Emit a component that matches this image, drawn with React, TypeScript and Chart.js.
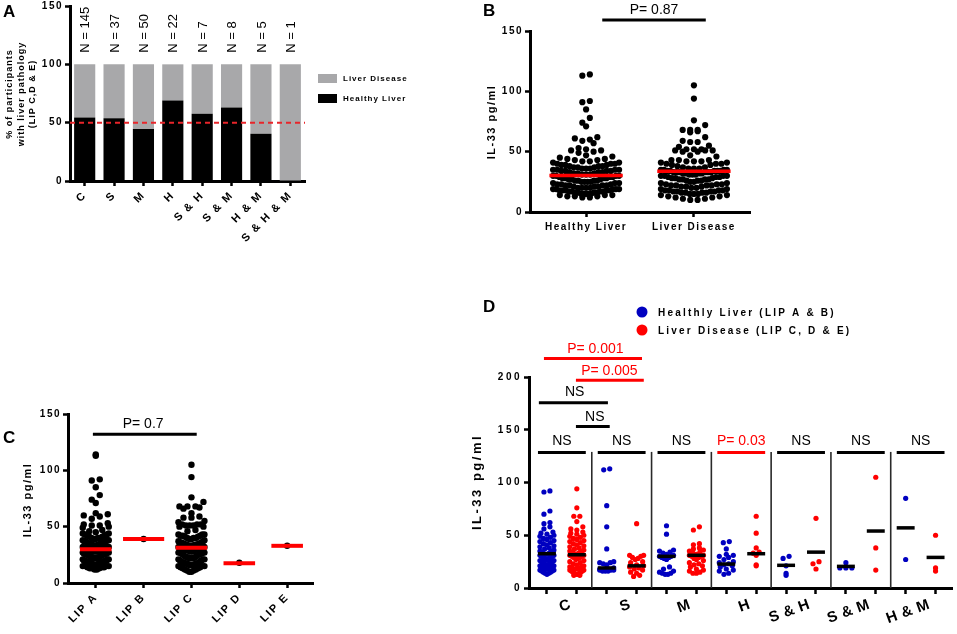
import React, { useEffect, useRef } from 'react';
import { Chart, registerables } from 'chart.js';

Chart.register(...registerables);

const FONT = "'Liberation Sans', Arial, Helvetica, sans-serif";

// ---------------- Panel A data ----------------
const aCategories = ['C', 'S', 'M', 'H', 'S & H', 'S & M', 'H & M', 'S & H & M'];
const aSampleSizes = [145, 37, 50, 22, 7, 8, 5, 1];
const aHealthyPct = [54.5, 53.8, 44.5, 68.9, 57.6, 63, 40.5, 0];
const aDiseasePct = [45.5, 46.2, 55.5, 31.1, 42.4, 37, 59.5, 100];
const aSeriesNames = ['Healthy Liver', 'Liver Disease'];
const aYTitle = ['% of participants', 'with liver pathology', '(LIP C,D & E)'];
const aThreshold = 50;

// ---------------- Panel B / C data ----------------
const lipA = [
  114, 113, 92, 91, 85, 78, 74, 71, 62, 61, 60, 59, 57, 53, 52, 51, 51, 50, 49, 47, 46, 45, 44, 44, 43, 43, 42, 42,
  41, 41, 40, 40, 40, 39, 39, 38, 38, 38, 37, 37, 37, 36, 36, 36, 35, 35, 35, 35, 34, 34, 34, 34, 33, 33, 33, 32, 32,
  32, 31, 31, 31, 30, 30, 30, 30, 29, 29, 29, 28, 28, 28, 28, 27, 27, 27, 26, 26, 26, 26, 25, 25, 25, 25, 24, 24, 24,
  23, 23, 23, 22, 22, 22, 22, 21, 21, 21, 20, 20, 20, 20, 19, 19, 19, 19, 19, 18, 18, 18, 18, 18, 17, 17, 17, 17, 16,
  16, 16, 16, 15, 15, 15, 15, 14, 14, 14, 13, 13, 13, 12, 12,
];
const lipB = [39];
const lipC = [
  105, 94, 76, 72, 68, 68, 68, 67, 66, 62, 59, 58, 58, 55, 54, 52, 52, 52, 51, 51, 51, 50, 50, 47, 46, 43, 43, 43, 42,
  42, 42, 41, 41, 40, 40, 40, 39, 39, 38, 37, 37, 36, 36, 36, 35, 35, 35, 35, 34, 34, 34, 34, 34, 33, 33, 33, 33, 33,
  32, 32, 32, 32, 31, 31, 31, 30, 30, 30, 30, 29, 29, 29, 28, 28, 28, 27, 27, 27, 27, 26, 26, 26, 25, 25, 24, 24, 23,
  23, 23, 22, 22, 22, 22, 21, 21, 21, 20, 20, 19, 19, 18, 18, 18, 17, 17, 17, 17, 16, 16, 16, 16, 15, 15, 15, 14, 14,
  13, 13, 12, 12, 11, 11, 10, 10,
];
const lipD = [18];
const lipE = [33];
const healthyLiver = [...lipA, ...lipB];
const liverDisease = [...lipC, ...lipD, ...lipE];

const bCategories = ['Healthy Liver', 'Liver Disease'];
const bMedians = [30.3, 33.8];
const bPLabel = 'P= 0.87';

const cCategories = ['LIP A', 'LIP B', 'LIP C', 'LIP D', 'LIP E'];
const cMedians = [30, 39, 31.3, 17.5, 33];
const cPLabel = 'P= 0.7';

const yTitleIL33 = 'IL-33 pg/ml';

// ---------------- Panel D data ----------------
const dGroups = ['C', 'S', 'M', 'H', 'S & H', 'S & M', 'H & M'];
const dHealthyC = [92, 91, 73, 70, 62, 61, 58, 56, 53, 52, 51, 50, 49, 48, 47, 46, 45, 44, 43, 42, 41, 40, 39, 38, 37, 36,
  35, 35, 34, 34, 33, 33, 32, 32, 32, 31, 31, 30, 30, 29, 29, 28, 28, 27, 27, 26, 26, 25, 25, 24, 24, 23, 23, 22, 22, 21,
  21, 20, 20, 19, 19, 18, 18, 17, 17, 16, 16, 15, 15, 14, 14, 13];
const dDiseaseC = [94, 76, 68, 68, 63, 58, 56, 55, 53, 52, 51, 50, 49, 48, 47, 46, 45, 44, 43, 42, 41, 40, 39, 38, 37, 36,
  35, 35, 34, 34, 33, 33, 32, 32, 31, 31, 30, 30, 29, 29, 28, 27, 26, 25, 24, 23, 22, 21, 20, 20, 19, 19, 18, 18, 17, 17,
  16, 16, 15, 15, 14, 14, 13, 13, 12, 12];
const dHealthyS = [113, 112, 78, 58, 37, 25, 24, 24, 23, 22, 19, 18, 18, 18, 17, 17, 17, 16, 16, 16];
const dDiseaseS = [61, 31, 31, 30, 29, 28, 27, 25, 24, 22, 21, 20, 19, 18, 17, 15, 14, 12, 11];
const dHealthyM = [59, 51, 36, 35, 34, 33, 32, 31, 30, 30, 29, 29, 28, 27, 20, 18, 16, 15, 14, 14, 13, 13];
const dDiseaseM = [58, 55, 42, 41, 38, 37, 36, 35, 34, 33, 32, 31, 31, 30, 30, 29, 28, 27, 26, 24, 23, 22, 21, 20, 18, 17,
  16, 15, 14, 14];
const dHealthyH = [44, 43, 37, 32, 31, 30, 29, 27, 25, 24, 23, 22, 21, 20, 18, 17, 16, 14, 13];
const dDiseaseH = [68, 52, 38, 34, 33, 31, 22, 21];
const dHealthySH = [30, 28, 21, 14, 12];
const dDiseaseSH = [66, 25, 23, 18];
const dHealthySM = [24, 19, 19, 19];
const dDiseaseSM = [105, 38, 17];
const dHealthyHM = [85, 27];
const dDiseaseHM = [50, 19, 16];
const dHealthyGroups = [dHealthyC, dHealthyS, dHealthyM, dHealthyH, dHealthySH, dHealthySM, dHealthyHM];
const dDiseaseGroups = [dDiseaseC, dDiseaseS, dDiseaseM, dDiseaseH, dDiseaseSH, dDiseaseSM, dDiseaseHM];
const dHealthyLines = [32.5, 19, 30, 22.7, 21.5, 20.5, 57];
const dDiseaseLines = [31.5, 21, 31, 32.5, 34, 54, 29];
const dPairLabels = ['NS', 'NS', 'NS', 'P= 0.03', 'NS', 'NS', 'NS'];
const dPairColors = ['#000', '#000', '#000', '#ff0000', '#000', '#000', '#000'];
const dCrossLabels = ['P= 0.001', 'P= 0.005', 'NS', 'NS'];
const dCrossColors = ['#ff0000', '#ff0000', '#000', '#000'];
const dLegend = ['Healthly Liver (LIP A & B)', 'Liver Disease (LIP C, D & E)'];

const BLUE = '#0000c0';
const RED = '#ff0000';

// ---------------- helpers ----------------
type TxtOpts = { size?: number; bold?: boolean; color?: string; align?: CanvasTextAlign; baseline?: CanvasTextBaseline; rot?: number; ls?: number };
function txt(ctx: any, s: string, x: number, y: number, o: TxtOpts = {}) {
  ctx.save();
  ctx.font = `${o.bold ? 'bold ' : ''}${o.size ?? 12}px ${FONT}`;
  ctx.fillStyle = o.color ?? '#000';
  ctx.textAlign = o.align ?? 'center';
  ctx.textBaseline = o.baseline ?? 'middle';
  ctx.letterSpacing = `${o.ls ?? 0}px`;
  ctx.translate(x, y);
  if (o.rot) ctx.rotate((o.rot * Math.PI) / 180);
  ctx.fillText(s, 0, 0);
  ctx.restore();
}
function seg(ctx: any, x1: number, y1: number, x2: number, y2: number, color: string, w: number, dash: number[] = []) {
  ctx.save();
  ctx.strokeStyle = color;
  ctx.lineWidth = w;
  ctx.setLineDash(dash);
  ctx.beginPath();
  ctx.moveTo(x1, y1);
  ctx.lineTo(x2, y2);
  ctx.stroke();
  ctx.restore();
}

// GraphPad-style scatter layout: points are binned into rows; inside a row the
// lowest values sit in the middle and larger ones move outward (chevrons).
// Row spacing shrinks when a row would be wider than maxW.
function rowOffsets(py: number[], binH: number, sMax: number, maxW: number): number[] {
  const bins = new Map<number, number[]>();
  py.forEach((p, i) => {
    const b = Math.floor(p / binH);
    if (!bins.has(b)) bins.set(b, []);
    bins.get(b)!.push(i);
  });
  const out = new Array(py.length).fill(0);
  bins.forEach((idx) => {
    idx.sort((a, b) => py[b] - py[a]);
    const n = idx.length;
    const s = n > 1 ? Math.min(sMax, maxW / (n - 1)) : 0;
    const pos = Array.from({ length: n }, (_, k) => (k - (n - 1) / 2) * s).sort((a, b) => Math.abs(a) - Math.abs(b) || a - b);
    idx.forEach((i, k) => { out[i] = pos[k]; });
  });
  return out;
}

function applyRows(chart: any, dsIndex: number, center: number, values: number[], binH: number, sMax: number, maxW: number) {
  const xs = chart.scales.x;
  const ys = chart.scales.y;
  const pxX = xs.getPixelForValue(1) - xs.getPixelForValue(0);
  const off = rowOffsets(values.map((v) => ys.getPixelForValue(v)), binH, sMax, maxW);
  chart.data.datasets[dsIndex].data = values.map((v, i) => ({ x: center + off[i] / pxX, y: v }));
}

const tickGrid = { drawOnChartArea: false, drawTicks: true, tickLength: 5, tickWidth: 2.5, tickColor: '#000', color: '#000' };
const axisBorder = { display: true, width: 3, color: '#000' };
const fitY = (w: number) => (s: any) => { s.width = w; s.paddingTop = 0; s.paddingBottom = 0; };
const fitX = (h: number) => (s: any) => { s.height = h; s.paddingLeft = 0; s.paddingRight = 0; };

function yAxis(max: number, width: number) {
  return {
    type: 'linear', min: 0, max,
    ticks: { stepSize: 50, color: '#000', font: { family: FONT, size: 10, weight: 'bold' }, padding: 2 },
    grid: tickGrid, border: axisBorder, afterFit: fitY(width),
  } as any;
}

function seg2(center: number, value: number, half: number, color: string, width: number) {
  return {
    data: [{ x: center - half, y: value }, { x: center + half, y: value }],
    showLine: true, borderColor: color, borderWidth: width, pointRadius: 0, clip: false,
  } as any;
}
function dots(values: number[], center: number, color: string, r: number) {
  return { data: values.map((v) => ({ x: center, y: v })), backgroundColor: color, borderWidth: 0, pointRadius: r, clip: false } as any;
}

const baseOpts = {
  responsive: false, animation: false, events: [] as any[],
  plugins: { legend: { display: false }, tooltip: { enabled: false } },
};

// ---------------- Panel builders ----------------
function buildA(canvas: HTMLCanvasElement) {
  return new Chart(canvas, {
    type: 'bar',
    data: {
      labels: aCategories,
      datasets: [
        { label: aSeriesNames[0], data: aHealthyPct, backgroundColor: '#000', categoryPercentage: 1, barPercentage: 0.72, stack: 's' },
        { label: aSeriesNames[1], data: aDiseasePct, backgroundColor: '#a8a8aa', categoryPercentage: 1, barPercentage: 0.72, stack: 's' },
      ],
    },
    options: {
      ...baseOpts,
      layout: { padding: { left: 0, top: 6, right: 125, bottom: 0 } },
      scales: {
        x: {
          stacked: true, grid: { ...tickGrid, offset: false }, border: axisBorder,
          ticks: { color: '#000', font: { family: FONT, size: 11, weight: 'bold' }, minRotation: 45, maxRotation: 45, autoSkip: false, padding: 3 },
          afterFit: fitX(109),
        },
        y: { ...yAxis(150, 70), stacked: true },
      },
    } as any,
    plugins: [{
      id: 'extrasA',
      beforeDraw: (c: any) => { c.ctx.letterSpacing = '1.5px'; },
      afterDraw: (c: any) => {
        const { ctx, chartArea: ca, scales: { x, y } } = c;
        const ty = y.getPixelForValue(aThreshold);
        seg(ctx, ca.left, ty, ca.right, ty, '#e8252a', 2, [5, 4]);
        aSampleSizes.forEach((n, i) => txt(ctx, `N = ${n}`, x.getPixelForValue(i) + 1, y.getPixelForValue(110), { size: 13, rot: -90, align: 'left' }));
        txt(ctx, 'A', 3, 12, { size: 17, bold: true, align: 'left' });
        [10, 22, 33].forEach((px, i) => txt(ctx, aYTitle[i], px, 94, { size: 9, bold: true, rot: -90, ls: 1 }));
        ctx.save();
        ctx.fillStyle = '#a8a8aa';
        ctx.fillRect(318, 74, 19, 9);
        ctx.fillStyle = '#000';
        ctx.fillRect(318, 94, 19, 9);
        ctx.restore();
        txt(ctx, aSeriesNames[1], 343, 79, { size: 8, bold: true, align: 'left', ls: 1 });
        txt(ctx, aSeriesNames[0], 343, 99, { size: 8, bold: true, align: 'left', ls: 1 });
      },
    }],
  });
}

function buildB(canvas: HTMLCanvasElement) {
  const chart: any = new Chart(canvas, {
    type: 'scatter',
    data: {
      datasets: [
        seg2(0, bMedians[0], 0.34, RED, 3.5),
        seg2(1, bMedians[1], 0.34, RED, 3.5),
        dots(healthyLiver, 0, '#000', 3.1),
        dots(liverDisease, 1, '#000', 3.1),
      ],
    },
    options: {
      ...baseOpts,
      layout: { padding: { left: 0, top: 31, right: 30, bottom: 0 } },
      scales: {
        x: {
          type: 'linear', min: -0.52, max: 1.52,
          afterBuildTicks: (s: any) => { s.ticks = [{ value: 0 }, { value: 1 }]; },
          ticks: { callback: (v: any) => bCategories[v] ?? '', autoSkip: false, maxRotation: 0, color: '#000', font: { family: FONT, size: 10, weight: 'bold' }, padding: 4 },
          grid: tickGrid, border: axisBorder, afterFit: fitX(48),
        },
        y: yAxis(150, 70),
      },
    } as any,
    plugins: [{
      id: 'extrasB',
      beforeDraw: (c: any) => { c.ctx.letterSpacing = '1.5px'; },
      afterDraw: (c: any) => {
        const { ctx, scales: { x } } = c;
        seg(ctx, x.getPixelForValue(0.15), 20, x.getPixelForValue(1.11), 20, '#000', 3);
        txt(ctx, bPLabel, x.getPixelForValue(0.63), 10, { size: 14 });
        txt(ctx, 'B', 23, 11, { size: 17, bold: true, align: 'left' });
        txt(ctx, yTitleIL33, 32, 122, { size: 11, bold: true, rot: -90, ls: 1.5 });
      },
    }],
  });
  applyRows(chart, 2, 0, healthyLiver, 6.5, 7.5, 66);
  applyRows(chart, 3, 1, liverDisease, 6.5, 7.5, 66);
  chart.update('none');
  return chart;
}

function buildC(canvas: HTMLCanvasElement) {
  const groups = [lipA, lipB, lipC, lipD, lipE];
  const chart: any = new Chart(canvas, {
    type: 'scatter',
    data: {
      datasets: [
        ...cMedians.map((m, i) => seg2(i, m, i === 1 ? 0.43 : 0.33, RED, 4)),
        ...groups.map((g, i) => dots(g, i, '#000', 3.2)),
      ],
    },
    options: {
      ...baseOpts,
      layout: { padding: { left: 0, top: 24, right: 37, bottom: 0 } },
      scales: {
        x: {
          type: 'linear', min: -0.58, max: 4.54,
          afterBuildTicks: (s: any) => { s.ticks = cCategories.map((_, i) => ({ value: i })); },
          ticks: { callback: (v: any) => cCategories[v] ?? '', autoSkip: false, minRotation: 45, maxRotation: 45, color: '#000', font: { family: FONT, size: 11, weight: 'bold' }, padding: 3 },
          grid: tickGrid, border: axisBorder, afterFit: fitX(51),
        },
        y: yAxis(150, 68),
      },
    } as any,
    plugins: [{
      id: 'extrasC',
      beforeDraw: (c: any) => { c.ctx.letterSpacing = '1.5px'; },
      afterDraw: (c: any) => {
        const { ctx, scales: { x, y } } = c;
        const py = y.getPixelForValue(132);
        seg(ctx, x.getPixelForValue(-0.06), py, x.getPixelForValue(2.11), py, '#000', 3);
        txt(ctx, cPLabel, x.getPixelForValue(0.99), py - 10, { size: 14 });
        txt(ctx, 'C', 3, 48, { size: 17, bold: true, align: 'left' });
        txt(ctx, yTitleIL33, 28, 110, { size: 11, bold: true, rot: -90, ls: 1.5 });
      },
    }],
  });
  groups.forEach((g, i) => applyRows(chart, cMedians.length + i, i, g, 6.5, 8, 26));
  chart.update('none');
  return chart;
}

function buildD(canvas: HTMLCanvasElement) {
  const lineSets: any[] = [];
  const dotSets: any[] = [];
  dGroups.forEach((_, g) => {
    lineSets.push(seg2(2 * g, dHealthyLines[g], 0.3, '#000', 3.5));
    lineSets.push(seg2(2 * g + 1, dDiseaseLines[g], 0.3, '#000', 3.5));
    dotSets.push(dots(dHealthyGroups[g], 2 * g, BLUE, 2.6));
    dotSets.push(dots(dDiseaseGroups[g], 2 * g + 1, RED, 2.6));
  });
  const chart: any = new Chart(canvas, {
    type: 'scatter',
    data: { datasets: [...lineSets, ...dotSets] },
    options: {
      ...baseOpts,
      layout: { padding: { left: 0, top: 87, right: 5, bottom: 0 } },
      scales: {
        x: {
          type: 'linear', min: -0.6, max: 13.55,
          afterBuildTicks: (s: any) => { s.ticks = Array.from({ length: dGroups.length * 2 }, (_, i) => ({ value: i })); },
          ticks: { callback: () => '', autoSkip: false, maxRotation: 0 },
          grid: { ...tickGrid, tickLength: 6 }, border: axisBorder, afterFit: fitX(46),
        },
        y: yAxis(200, 89),
      },
    } as any,
    plugins: [{
      id: 'extrasD',
      beforeDraw: (c: any) => { c.ctx.letterSpacing = '2.5px'; },
      beforeDatasetsDraw: (c: any) => {
        const { ctx, scales: { x, y } } = c;
        for (let g = 0; g < dGroups.length - 1; g++) {
          const px = x.getPixelForValue(2 * g + 1.5);
          seg(ctx, px, y.getPixelForValue(0), px, y.getPixelForValue(129), '#2a2a2a', 1.6);
        }
      },
      afterDraw: (c: any) => {
        const { ctx, scales: { x, y } } = c;
        const X = (v: number) => x.getPixelForValue(v);
        const Y = (v: number) => y.getPixelForValue(v);
        dPairLabels.forEach((lab, g) => {
          seg(ctx, X(2 * g - 0.3), Y(128.5), X(2 * g + 1.3), Y(128.5), dPairColors[g], 3);
          txt(ctx, lab, X(2 * g + 0.5), Y(139), { size: 14, color: dPairColors[g] });
        });
        const geom = [
          { x1: -0.1, x2: 3.18, y: 217.5, tx: 1.62, ty: 226 },
          { x1: 0.97, x2: 3.24, y: 197, tx: 2.09, ty: 205.5 },
          { x1: -0.27, x2: 2.04, y: 175.5, tx: 0.93, ty: 185.5 },
          { x1: 0.97, x2: 2.1, y: 153, tx: 1.6, ty: 162 },
        ];
        geom.forEach((gm, i) => {
          seg(ctx, X(gm.x1), Y(gm.y), X(gm.x2), Y(gm.y), dCrossColors[i], 3);
          txt(ctx, dCrossLabels[i], X(gm.tx), Y(gm.ty), { size: 14, color: dCrossColors[i] });
        });
        dGroups.forEach((lab, g) => txt(ctx, lab, X(2 * g + 0.5) + 6, 307, { size: 15, bold: true, rot: -20, align: 'right', baseline: 'top', ls: 0.5 }));
        [BLUE, RED].forEach((col, i) => {
          ctx.save();
          ctx.fillStyle = col;
          ctx.beginPath();
          ctx.arc(202, 22 + i * 18, 5.5, 0, Math.PI * 2);
          ctx.fill();
          ctx.restore();
          txt(ctx, dLegend[i], 218, 23 + i * 18, { size: 10, bold: true, align: 'left', ls: 2.2 });
        });
        txt(ctx, 'D', 43, 17, { size: 17, bold: true, align: 'left' });
        txt(ctx, yTitleIL33, 37, 192, { size: 13, bold: true, rot: -90, ls: 2.5 });
      },
    }],
  });
  dGroups.forEach((_, g) => {
    applyRows(chart, lineSets.length + 2 * g, 2 * g, dHealthyGroups[g], 5, 6, 14);
    applyRows(chart, lineSets.length + 2 * g + 1, 2 * g + 1, dDiseaseGroups[g], 5, 6, 14);
  });
  chart.update('none');
  return chart;
}

export default function App() {
  const refA = useRef<HTMLCanvasElement>(null);
  const refB = useRef<HTMLCanvasElement>(null);
  const refC = useRef<HTMLCanvasElement>(null);
  const refD = useRef<HTMLCanvasElement>(null);
  useEffect(() => {
    const charts = [buildA(refA.current!), buildB(refB.current!), buildC(refC.current!), buildD(refD.current!)];
    return () => charts.forEach((c) => c.destroy());
  }, []);
  const cs = (left: number, top: number): React.CSSProperties => ({ position: 'absolute', left, top });
  return (
    <div style={{ position: 'absolute', left: 0, top: 0, width: 957, height: 634, background: '#fff', overflow: 'hidden' }}>
      <canvas ref={refA} width={430} height={290} style={cs(0, 0)} />
      <canvas ref={refB} width={320} height={260} style={cs(460, 0)} />
      <canvas ref={refC} width={350} height={244} style={cs(0, 390)} />
      <canvas ref={refD} width={517} height={344} style={cs(440, 290)} />
    </div>
  );
}
